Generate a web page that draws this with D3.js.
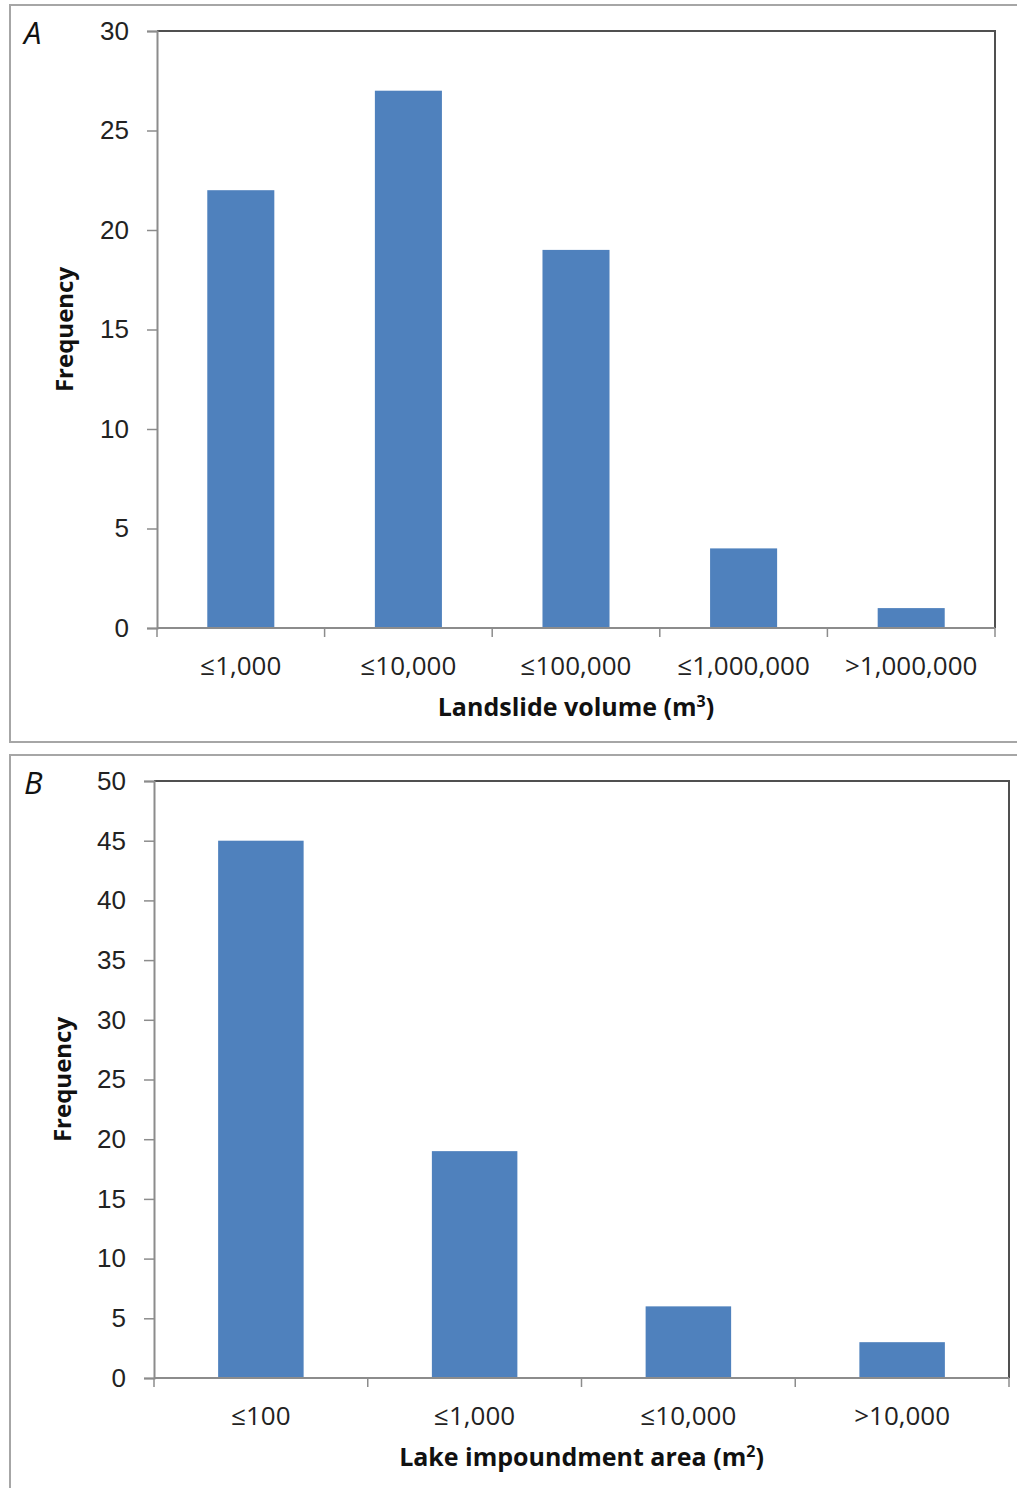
<!DOCTYPE html>
<html lang="en">
<head>
    <meta charset="UTF-8">
    <title>Landslide histograms</title>
    <script src="https://d3js.org/d3.v7.min.js"></script>
    <style>
        body { margin: 0; background: #fff; }
        svg { display: block; font-family: "Open Sans", sans-serif; }
    </style>
</head>
<body>
    <div id="chart"></div>

    <script>
        // panel A data
        const volumeCategories = ["≤1,000", "≤10,000", "≤100,000", "≤1,000,000", ">1,000,000"];
        const volumeCounts = [22, 27, 19, 4, 1];
        const volumeTicks = [0, 5, 10, 15, 20, 25, 30];

        // panel B data
        const areaCategories = ["≤100", "≤1,000", "≤10,000", ">10,000"];
        const areaCounts = [45, 19, 6, 3];
        const areaTicks = [0, 5, 10, 15, 20, 25, 30, 35, 40, 45, 50];

        const svg = d3.select("#chart")
            .append("svg")
            .attr("width", 1017)
            .attr("height", 1488);

        function drawPanel(opts) {
            const g = svg.append("g");

            // outer frame of the panel
            g.append("rect")
                .attr("x", opts.frame[0]).attr("y", opts.frame[1])
                .attr("width", opts.frame[2]).attr("height", opts.frame[3])
                .attr("fill", "none")
                .attr("stroke", "#a6a6a6")
                .attr("stroke-width", 2);

            g.append("text")
                .attr("x", opts.frame[0] + 14)
                .attr("y", opts.frame[1] + 39)
                .attr("font-size", 31)
                .attr("font-style", "italic")
                .attr("fill", "#111")
                .text(opts.letter);

            const p = opts.plot;
            const x = d3.scaleBand().domain(opts.categories).range([p.left, p.right]).padding(0);
            const y = d3.scaleLinear().domain([0, d3.max(opts.ticks)]).range([p.bottom, p.top]);

            // top and right border of the plot area
            g.append("path")
                .attr("d", `M${p.left},${p.top}H${p.right}V${p.bottom}`)
                .attr("fill", "none")
                .attr("stroke", "#505050")
                .attr("stroke-width", 2);

            // bars
            const barW = x.bandwidth() * 0.4;
            g.selectAll("rect.bar")
                .data(opts.values)
                .join("rect")
                .attr("class", "bar")
                .attr("x", (d, i) => x(opts.categories[i]) + (x.bandwidth() - barW) / 2)
                .attr("y", d => y(d))
                .attr("width", barW)
                .attr("height", d => y(0) - y(d))
                .attr("fill", "#4f81bd");

            // y axis
            const yAxis = g.append("g")
                .attr("transform", `translate(${p.left},0)`)
                .call(d3.axisLeft(y).tickValues(opts.ticks).tickSize(10).tickPadding(18).tickFormat(d3.format("d")));
            yAxis.select(".domain").attr("stroke", "#8c8c8c").attr("stroke-width", 2);
            yAxis.selectAll(".tick line").attr("stroke", "#8c8c8c").attr("stroke-width", 1.5);
            yAxis.selectAll(".tick text").attr("font-size", 26).attr("fill", "#222").attr("font-family", null);

            // x axis: ticks on category boundaries
            const xAxis = g.append("g")
                .attr("transform", `translate(0,${p.bottom})`);
            xAxis.append("line")
                .attr("x1", p.left).attr("x2", p.right)
                .attr("stroke", "#8c8c8c").attr("stroke-width", 2);
            const bounds = opts.categories.map(c => x(c)).concat([p.right]);
            xAxis.selectAll("line.tk")
                .data(bounds)
                .join("line")
                .attr("class", "tk")
                .attr("x1", d => d).attr("x2", d => d)
                .attr("y1", 0).attr("y2", 9)
                .attr("stroke", "#8c8c8c").attr("stroke-width", 1.5);
            xAxis.selectAll("text.cat")
                .data(opts.categories)
                .join("text")
                .attr("class", "cat")
                .attr("x", d => x(d) + x.bandwidth() / 2)
                .attr("y", 47)
                .attr("text-anchor", "middle")
                .attr("font-size", 26)
                .attr("fill", "#222")
                .text(d => d);

            // axis titles
            const xt = g.append("text")
                .attr("x", (p.left + p.right) / 2)
                .attr("y", p.bottom + 88)
                .attr("text-anchor", "middle")
                .attr("font-size", 25)
                .attr("font-weight", "bold")
                .attr("fill", "#111")
                .text(opts.xTitle);
            xt.append("tspan").attr("font-size", 16).attr("dy", -9).text(opts.sup);
            xt.append("tspan").attr("dy", 9).text(")");

            g.append("text")
                .attr("transform", `translate(${opts.yTitleX},${(p.top + p.bottom) / 2}) rotate(-90)`)
                .attr("text-anchor", "middle")
                .attr("font-size", 24)
                .attr("font-weight", "bold")
                .attr("fill", "#111")
                .text("Frequency");
        }

        drawPanel({
            frame: [10, 5, 1020, 737],
            letter: "A",
            categories: volumeCategories,
            values: volumeCounts,
            ticks: volumeTicks,
            plot: { left: 157, right: 995, top: 31, bottom: 628 },
            xTitle: "Landslide volume (m",
            sup: "3",
            yTitleX: 73
        });

        drawPanel({
            frame: [10, 755, 1020, 740],
            letter: "B",
            categories: areaCategories,
            values: areaCounts,
            ticks: areaTicks,
            plot: { left: 154, right: 1009, top: 781, bottom: 1378 },
            xTitle: "Lake impoundment area (m",
            sup: "2",
            yTitleX: 71
        });
    </script>
</body>
</html>
